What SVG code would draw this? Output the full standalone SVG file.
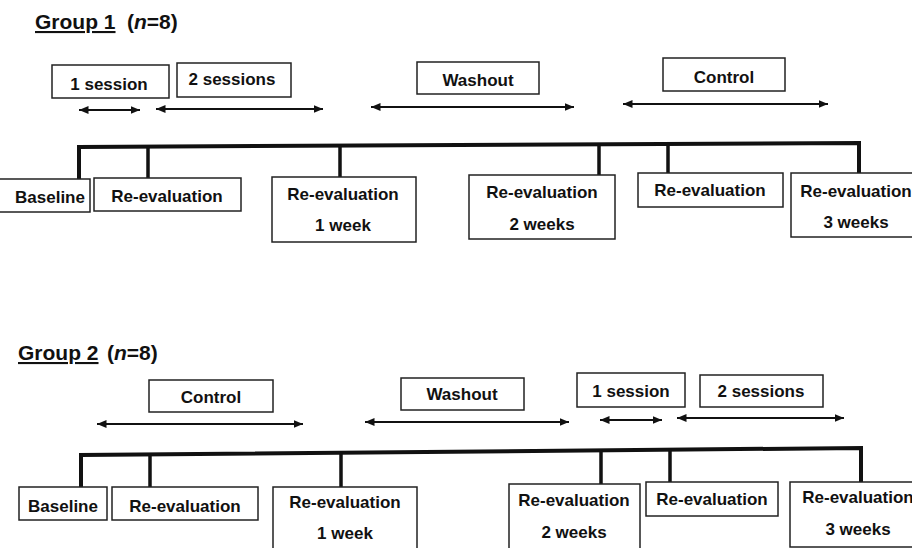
<svg xmlns="http://www.w3.org/2000/svg" width="912" height="548" viewBox="0 0 912 548">
<style>
  .box { fill: #fff; stroke: #222; stroke-width: 1.5; }
  .t { font-family: "Liberation Sans", Arial, sans-serif; font-weight: bold; font-size: 17px; fill: #111; text-anchor: middle; }
  .title { font-family: "Liberation Sans", Arial, sans-serif; font-weight: bold; font-size: 21px; fill: #111; }
  .arrow { stroke: #111; stroke-width: 2.2; fill: none; marker-start: url(#ah); marker-end: url(#ah); }
  .line { stroke: #111; stroke-width: 4; fill: none; stroke-linejoin: miter; }
  .tick { stroke: #111; stroke-width: 3.5; fill: none; }
</style>
<defs>
  <marker id="ah" markerUnits="userSpaceOnUse" markerWidth="11" markerHeight="9" refX="9.5" refY="4" orient="auto-start-reverse">
    <path d="M0,0 L9.5,4 L0,8 z" fill="#111"/>
  </marker>
</defs>
<rect width="912" height="548" fill="#fff"/>

<!-- Titles -->
<g id="title1">
  <text class="title" x="35" y="29"><tspan text-decoration="underline">Group 1</tspan></text>
  <text class="title" x="127" y="29">(<tspan font-style="italic">n</tspan>=8)</text>
</g>
<g id="title2">
  <text class="title" x="18" y="360"><tspan text-decoration="underline">Group 2</tspan></text>
  <text class="title" x="107" y="360">(<tspan font-style="italic">n</tspan>=8)</text>
</g>

<!-- Connectors -->
<g id="connectors">
  <!-- Group 1 timeline -->
  <path class="line" d="M79,179 L79,147 L859,143 L859,173"/>
  <path class="tick" d="M148,146.6 V178"/>
  <path class="tick" d="M340,145.7 V177"/>
  <path class="tick" d="M599,144.3 V175"/>
  <path class="tick" d="M668,144 V173"/>
  <!-- Group 1 arrows -->
  <line class="arrow" x1="79" y1="110" x2="140" y2="110"/>
  <line class="arrow" x1="156" y1="109" x2="323" y2="109"/>
  <line class="arrow" x1="371" y1="107" x2="574" y2="107"/>
  <line class="arrow" x1="623" y1="104" x2="828" y2="104"/>
  <!-- Group 2 timeline -->
  <path class="line" d="M81,487 L81,455 L861,448 L861,482"/>
  <path class="tick" d="M150,454.4 V487"/>
  <path class="tick" d="M341,452.7 V487"/>
  <path class="tick" d="M601,450.3 V484"/>
  <path class="tick" d="M670,449.7 V482"/>
  <!-- Group 2 arrows -->
  <line class="arrow" x1="97" y1="424" x2="303" y2="424"/>
  <line class="arrow" x1="365" y1="422" x2="569" y2="422"/>
  <line class="arrow" x1="600" y1="420" x2="662" y2="420"/>
  <line class="arrow" x1="677" y1="418" x2="844" y2="418"/>
</g>

<!-- Group 1 nodes -->
<g id="g1-1session"><rect class="box" x="52" y="65" width="117" height="33"/><text class="t" x="109" y="90">1 session</text></g>
<g id="g1-2sessions"><rect class="box" x="177" y="63" width="114" height="34"/><text class="t" x="232" y="85">2 sessions</text></g>
<g id="g1-washout"><rect class="box" x="417" y="62" width="122" height="32"/><text class="t" x="478" y="86">Washout</text></g>
<g id="g1-control"><rect class="box" x="663" y="58" width="122" height="33"/><text class="t" x="724" y="83">Control</text></g>
<g id="g1-baseline"><rect class="box" x="-5" y="179" width="95" height="33"/><text class="t" x="50" y="203">Baseline</text></g>
<g id="g1-reeval1"><rect class="box" x="94" y="178" width="147" height="33"/><text class="t" x="167" y="202">Re-evaluation</text></g>
<g id="g1-reeval-1week"><rect class="box" x="272" y="177" width="144" height="65"/><text class="t" x="343" y="200">Re-evaluation</text><text class="t" x="343" y="231">1 week</text></g>
<g id="g1-reeval-2weeks"><rect class="box" x="469" y="175" width="146" height="64"/><text class="t" x="542" y="198">Re-evaluation</text><text class="t" x="542" y="230">2 weeks</text></g>
<g id="g1-reeval2"><rect class="box" x="638" y="173" width="145" height="34"/><text class="t" x="710" y="196">Re-evaluation</text></g>
<g id="g1-reeval-3weeks"><rect class="box" x="791" y="173" width="130" height="64"/><text class="t" x="856" y="197">Re-evaluation</text><text class="t" x="856" y="228">3 weeks</text></g>

<!-- Group 2 nodes -->
<g id="g2-control"><rect class="box" x="149" y="380" width="124" height="32"/><text class="t" x="211" y="403">Control</text></g>
<g id="g2-washout"><rect class="box" x="401" y="378" width="123" height="32"/><text class="t" x="462" y="400">Washout</text></g>
<g id="g2-1session"><rect class="box" x="577" y="373" width="108" height="34"/><text class="t" x="631" y="397">1 session</text></g>
<g id="g2-2sessions"><rect class="box" x="700" y="375" width="123" height="32"/><text class="t" x="761" y="397">2 sessions</text></g>
<g id="g2-baseline"><rect class="box" x="19" y="487" width="88" height="33"/><text class="t" x="63" y="512">Baseline</text></g>
<g id="g2-reeval1"><rect class="box" x="112" y="487" width="146" height="33"/><text class="t" x="185" y="512">Re-evaluation</text></g>
<g id="g2-reeval-1week"><rect class="box" x="273" y="487" width="144" height="70"/><text class="t" x="345" y="508">Re-evaluation</text><text class="t" x="345" y="539">1 week</text></g>
<g id="g2-reeval-2weeks"><rect class="box" x="509" y="484" width="131" height="70"/><text class="t" x="574" y="506">Re-evaluation</text><text class="t" x="574" y="538">2 weeks</text></g>
<g id="g2-reeval2"><rect class="box" x="646" y="482" width="132" height="34"/><text class="t" x="712" y="505">Re-evaluation</text></g>
<g id="g2-reeval-3weeks"><rect class="box" x="790" y="482" width="135" height="65"/><text class="t" x="858" y="503">Re-evaluation</text><text class="t" x="858" y="535">3 weeks</text></g>
</svg>
